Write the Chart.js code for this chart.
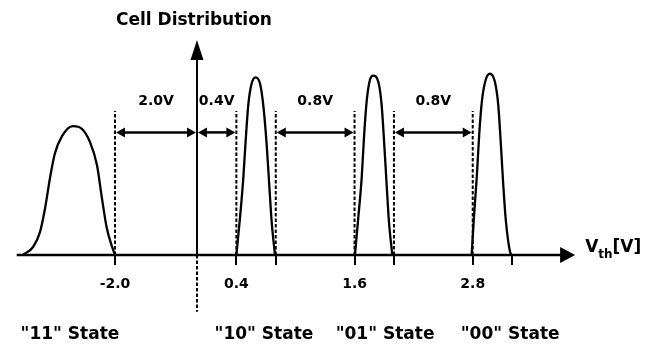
<!DOCTYPE html>
<html>
<head>
<meta charset="utf-8">
<script src="https://cdn.jsdelivr.net/npm/chart.js@4/dist/chart.umd.min.js"></script>
<style>
    body { margin: 0; background: #fff; }
    #wrap { width: 650px; height: 344px; }
</style>
</head>
<body>
<div id="wrap"><canvas id="cellChart" width="650" height="344"></canvas></div>
<script>
// Threshold voltage (V) and relative cell count for each state
const state11V = [-4.25, -4.00, -3.83, -3.71, -3.59, -3.47, -3.29, -3.03, -2.81, -2.61, -2.44, -2.32, -2.20, -2.07, -2.00];
const state11Y = [0, 0.045, 0.13, 0.26, 0.43, 0.57, 0.67, 0.725, 0.71, 0.635, 0.505, 0.32, 0.15, 0.045, 0];
const state10V = [0.40, 0.437, 0.470, 0.494, 0.521, 0.555, 0.596, 0.640, 0.673, 0.708, 0.734, 0.758, 0.792];
const state10Y = [0, 0.21, 0.43, 0.64, 0.845, 0.965, 1.0, 0.965, 0.845, 0.62, 0.395, 0.19, 0];
const state01V = [1.604, 1.638, 1.672, 1.698, 1.723, 1.756, 1.790, 1.841, 1.875, 1.902, 1.926, 1.949, 1.983];
const state01Y = [0, 0.21, 0.43, 0.68, 0.865, 0.985, 1.01, 0.975, 0.845, 0.62, 0.395, 0.19, 0];
const state00V = [2.789, 2.812, 2.840, 2.866, 2.893, 2.931, 2.975, 3.025, 3.059, 3.086, 3.110, 3.137, 3.178, 3.195];
const state00Y = [0, 0.21, 0.43, 0.68, 0.865, 0.985, 1.02, 0.975, 0.845, 0.62, 0.395, 0.19, 0.02, 0];

// Axis ticks (V) and their labels
const tickVolts = [-2.0, 0.4, 0.8, 1.6, 2.0, 2.8, 3.2];
const tickText = ["-2.0", "0.4", "", "1.6", "", "2.8", ""];

// State names and where they sit under the axis (V)
const stateNames = ['"11" State', '"10" State', '"01" State', '"00" State'];
const stateLabelVolts = [-3.1, 0.68, 1.91, 3.18];

// Read voltages (dashed lines) and the margins between them
const readVolts = [-2.0, 0.4, 0.8, 1.6, 2.0, 2.8];
const marginFrom = [-2.0, 0.0, 0.8, 2.0];
const marginTo = [0.0, 0.4, 1.6, 2.8];
const marginText = ["2.0V", "0.4V", "0.8V", "0.8V"];

// The figure draws the negative side compressed
const NEG_SCALE = 0.416;
function pos(v) {
    return v < 0 ? v * NEG_SCALE : v;
}

function toPoints(vs, ys) {
    return vs.map((v, i) => ({ x: pos(v), y: ys[i] }));
}

function curve(vs, ys) {
    return {
        data: toPoints(vs, ys),
        showLine: true,
        borderColor: "#000",
        borderWidth: 2.3,
        pointRadius: 0,
        cubicInterpolationMode: "monotone",
        fill: false
    };
}

function arrowHead(ctx, tipX, tipY, dx, dy, len, half) {
    // dx, dy: unit direction the arrow points to
    const bx = tipX - dx * len;
    const by = tipY - dy * len;
    ctx.beginPath();
    ctx.moveTo(tipX, tipY);
    ctx.lineTo(bx - dy * half, by + dx * half);
    ctx.lineTo(bx + dy * half, by - dx * half);
    ctx.closePath();
    ctx.fill();
}

const FONT = '"DejaVu Sans", Arial, sans-serif';

// Axes arrows, guide lines, margins and texts
const diagramPlugin = {
    id: "diagram",
    afterDatasetsDraw(chart) {
        const { ctx, scales: { x, y } } = chart;
        const px = (v) => x.getPixelForValue(pos(v));
        const py = (val) => y.getPixelForValue(val);
        const base = py(0);

        ctx.save();
        ctx.strokeStyle = "#000";
        ctx.fillStyle = "#000";

        // horizontal axis
        const xStart = px(-4.4);
        const xEnd = x.getPixelForValue(3.84);
        ctx.lineWidth = 2.5;
        ctx.beginPath();
        ctx.moveTo(xStart, base);
        ctx.lineTo(xEnd - 14, base);
        ctx.stroke();
        arrowHead(ctx, xEnd, base, 1, 0, 15, 8);

        // vertical axis
        const x0 = px(0);
        const yTop = py(y.max);
        ctx.lineWidth = 2;
        ctx.beginPath();
        ctx.moveTo(x0, base);
        ctx.lineTo(x0, yTop + 18);
        ctx.stroke();
        arrowHead(ctx, x0, yTop, 0, -1, 20, 6.5);
        ctx.setLineDash([3.5, 2]);
        ctx.beginPath();
        ctx.moveTo(x0, base);
        ctx.lineTo(x0, py(-0.32));
        ctx.stroke();

        // dashed read levels
        ctx.lineWidth = 2;
        readVolts.forEach((v) => {
            ctx.beginPath();
            ctx.moveTo(px(v), base);
            ctx.lineTo(px(v), py(0.81));
            ctx.stroke();
        });
        ctx.setLineDash([]);

        // margin arrows
        ctx.lineWidth = 2.5;
        ctx.font = "bold 14px " + FONT;
        ctx.textAlign = "center";
        ctx.textBaseline = "middle";
        const ay = py(0.69);
        marginFrom.forEach((a, i) => {
            const xa = px(a);
            const xb = px(marginTo[i]);
            ctx.beginPath();
            ctx.moveTo(xa + 6, ay);
            ctx.lineTo(xb - 6, ay);
            ctx.stroke();
            arrowHead(ctx, xa + 1, ay, -1, 0, 9, 5);
            arrowHead(ctx, xb - 1, ay, 1, 0, 9, 5);
            ctx.fillText(marginText[i], (xa + xb) / 2, py(0.865));
        });

        // title over the vertical axis
        ctx.font = "bold 17px " + FONT;
        ctx.fillText("Cell Distribution", x0 - 3, 21);

        // V_th[V]
        ctx.textAlign = "left";
        ctx.textBaseline = "alphabetic";
        let tx = xEnd + 10;
        ctx.font = "bold 17px " + FONT;
        ctx.fillText("V", tx, base - 3);
        tx += ctx.measureText("V").width;
        ctx.font = "bold 12px " + FONT;
        ctx.fillText("th", tx, base + 3);
        tx += ctx.measureText("th").width;
        ctx.font = "bold 17px " + FONT;
        ctx.fillText("[V]", tx, base - 3);

        ctx.restore();
    }
};

// keep the x axes from reserving side padding for their labels
function fitHeight(h) {
    return (scale) => {
        scale.height = h;
        scale.paddingLeft = 0;
        scale.paddingRight = 0;
    };
}

new Chart(document.getElementById("cellChart"), {
    type: "scatter",
    data: {
        datasets: [
            curve(state11V, state11Y),
            curve(state10V, state10Y),
            curve(state01V, state01Y),
            curve(state00V, state00Y)
        ]
    },
    options: {
        responsive: false,
        animation: false,
        layout: { padding: { top: 40, left: 0, right: 0, bottom: 0 } },
        plugins: {
            legend: { display: false },
            tooltip: { enabled: false },
            title: { display: false }
        },
        scales: {
            x: {
                type: "linear",
                position: "bottom",
                min: -2.0,
                max: 4.6,
                border: { display: false },
                grid: {
                    display: true,
                    drawOnChartArea: false,
                    drawTicks: true,
                    tickLength: 10,
                    color: "#000",
                    lineWidth: 2
                },
                afterBuildTicks: (scale) => {
                    scale.ticks = tickVolts.map((v) => ({ value: pos(v) }));
                },
                afterFit: fitHeight(40),
                ticks: {
                    autoSkip: false,
                    maxRotation: 0,
                    padding: 11,
                    color: "#000",
                    font: { family: FONT, size: 14, weight: "bold" },
                    callback: (value, index) => tickText[index]
                }
            },
            x2: {
                type: "linear",
                position: "bottom",
                min: -2.0,
                max: 4.6,
                border: { display: false },
                grid: { display: false, drawTicks: false },
                afterBuildTicks: (scale) => {
                    scale.ticks = stateLabelVolts.map((v) => ({ value: pos(v) }));
                },
                afterFit: fitHeight(49),
                ticks: {
                    autoSkip: false,
                    maxRotation: 0,
                    padding: 29,
                    color: "#000",
                    font: { family: FONT, size: 17, weight: "bold" },
                    callback: (value, index) => stateNames[index]
                }
            },
            y: {
                display: false,
                min: 0,
                max: 1.21
            }
        }
    },
    plugins: [diagramPlugin]
});
</script>
</body>
</html>
